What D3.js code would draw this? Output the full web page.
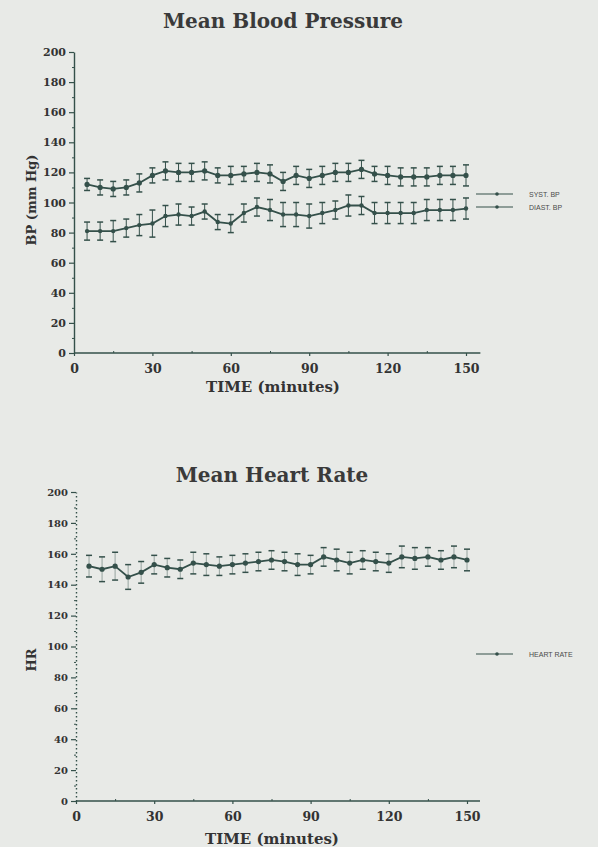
<!DOCTYPE html>
<html>
<head>
<meta charset="utf-8">
<script src="https://cdn.jsdelivr.net/npm/d3@7"></script>
<style>
	body { margin: 0; background: #e8eae7; }
	svg { display: block; }
</style>
</head>
<body>
<svg id="chart" width="598" height="847"></svg>
<script>
// ---------- DATA ----------
const minutes = [5, 10, 15, 20, 25, 30, 35, 40, 45, 50, 55, 60, 65, 70, 75,
	80, 85, 90, 95, 100, 105, 110, 115, 120, 125, 130, 135, 140, 145, 150];
const systolic = [112, 110, 109, 110, 113, 118, 121, 120, 120, 121, 118, 118, 119, 120, 119,
	114, 118, 116, 118, 120, 120, 122, 119, 118, 117, 117, 117, 118, 118, 118];
const systolicErr = [4, 5, 5, 5, 6, 5, 6, 6, 6, 6, 5, 6, 5, 6, 6,
	6, 6, 6, 6, 6, 6, 6, 5, 6, 6, 6, 6, 6, 6, 7];
const diastolic = [81, 81, 81, 83, 85, 86, 91, 92, 91, 94, 87, 86, 93, 97, 95,
	92, 92, 91, 93, 95, 98, 98, 93, 93, 93, 93, 95, 95, 95, 96];
const diastolicErr = [6, 6, 7, 6, 7, 9, 7, 7, 6, 5, 5, 6, 6, 6, 7,
	8, 8, 8, 7, 6, 7, 6, 7, 7, 7, 7, 7, 7, 7, 7];
const heartRate = [152, 150, 152, 145, 148, 153, 151, 150, 154, 153, 152, 153, 154, 155, 156,
	155, 153, 153, 158, 156, 154, 156, 155, 154, 158, 157, 158, 156, 158, 156];
const heartRateErr = [7, 8, 9, 8, 7, 6, 6, 6, 7, 7, 6, 6, 6, 6, 6,
	6, 7, 6, 6, 7, 7, 6, 6, 6, 7, 7, 6, 6, 7, 7];
const yTicks = [0, 20, 40, 60, 80, 100, 120, 140, 160, 180, 200];
const yMinorTicks = [10, 30, 50, 70, 90, 110, 130, 150, 170, 190];
const xTicks = [0, 30, 60, 90, 120, 150];
const xMinorTicks = [15, 45, 75, 105, 135];

const ink = "#34504a";
const textInk = "#333";
const svg = d3.select("#chart");

function drawPanel(cfg) {
	const x = d3.scaleLinear().domain([0, 150]).range([cfg.x0, cfg.x1]);
	const y = d3.scaleLinear().domain([0, 200]).range([cfg.y0, cfg.y1]);
	const g = svg.append("g");

	// title
	g.append("text")
		.attr("x", cfg.titleX)
		.attr("y", cfg.titleY)
		.attr("text-anchor", "middle")
		.attr("font-family", "DejaVu Serif")
		.attr("font-weight", "bold")
		.attr("font-size", 20)
		.attr("fill", "#3a3a3a")
		.text(cfg.title);

	// y axis
	const yAxis = g.append("g")
		.attr("transform", `translate(${cfg.x0},0)`)
		.call(d3.axisLeft(y).tickValues(yTicks).tickSize(5).tickSizeOuter(0).tickPadding(3));
	yAxis.select(".domain").attr("stroke", ink).attr("stroke-width", 1.4)
		.attr("stroke-dasharray", cfg.dotted ? "1.5,2.5" : null);
	yAxis.selectAll(".tick line").attr("stroke", ink).attr("stroke-width", 1.2);
	yAxis.selectAll(".tick text")
		.attr("font-family", "DejaVu Serif")
		.attr("font-weight", "bold")
		.attr("font-size", cfg.yFont)
		.attr("fill", textInk);
	g.append("g")
		.attr("transform", `translate(${cfg.x0},0)`)
		.call(d3.axisLeft(y).tickValues(yMinorTicks).tickSize(2).tickFormat(""))
		.call((a) => a.select(".domain").remove())
		.selectAll(".tick line").attr("stroke", ink);

	// x axis
	const xAxis = g.append("g")
		.attr("transform", `translate(0,${cfg.y0})`)
		.call(d3.axisBottom(x).tickValues(xTicks).tickSize(3).tickSizeOuter(0).tickPadding(8));
	xAxis.select(".domain").remove();
	xAxis.selectAll(".tick line").attr("stroke", ink).attr("stroke-width", 1.2);
	xAxis.selectAll(".tick text")
		.attr("font-family", "DejaVu Serif")
		.attr("font-weight", "bold")
		.attr("font-size", 12.5)
		.attr("fill", textInk);
	g.append("g")
		.attr("transform", `translate(0,${cfg.y0})`)
		.call(d3.axisTop(x).tickValues(xMinorTicks).tickSize(2).tickFormat(""))
		.call((a) => a.select(".domain").remove())
		.selectAll(".tick line").attr("stroke", ink);
	g.append("line")
		.attr("x1", cfg.x0)
		.attr("x2", x(cfg.axisEnd))
		.attr("y1", cfg.y0)
		.attr("y2", cfg.y0)
		.attr("stroke", ink)
		.attr("stroke-width", 1.6);

	// axis labels
	g.append("text")
		.attr("x", cfg.xLabelX)
		.attr("y", cfg.xLabelY)
		.attr("text-anchor", "middle")
		.attr("font-family", "DejaVu Serif")
		.attr("font-weight", "bold")
		.attr("font-size", 15)
		.attr("fill", textInk)
		.text("TIME (minutes)");
	g.append("text")
		.attr("transform", `translate(${cfg.yLabelX},${cfg.yLabelY}) rotate(-90)`)
		.attr("text-anchor", "middle")
		.attr("font-family", "DejaVu Serif")
		.attr("font-weight", "bold")
		.attr("font-size", 13)
		.attr("fill", textInk)
		.text(cfg.yLabel);

	// series
	cfg.series.forEach((s) => {
		const pts = minutes.map((m, i) => ({ m: m, v: s.values[i], e: s.err[i] }));
		const bars = g.append("g").attr("stroke", ink);
		bars.selectAll(".bar")
			.data(pts)
			.enter()
			.append("line")
			.attr("x1", (d) => x(d.m))
			.attr("x2", (d) => x(d.m))
			.attr("y1", (d) => y(d.v - d.e))
			.attr("y2", (d) => y(d.v + d.e))
			.attr("stroke-width", 1)
			.attr("opacity", cfg.barOpacity);
		[-1, 1].forEach((sgn) => {
			bars.selectAll(null)
				.data(pts)
				.enter()
				.append("line")
				.attr("x1", (d) => x(d.m) - 3)
				.attr("x2", (d) => x(d.m) + 3)
				.attr("y1", (d) => y(d.v + sgn * d.e))
				.attr("y2", (d) => y(d.v + sgn * d.e))
				.attr("stroke-width", 1.5);
		});
		g.append("path")
			.datum(pts)
			.attr("fill", "none")
			.attr("stroke", ink)
			.attr("stroke-width", 1.8)
			.attr("d", d3.line().x((d) => x(d.m)).y((d) => y(d.v)));
		g.selectAll(null)
			.data(pts)
			.enter()
			.append("circle")
			.attr("cx", (d) => x(d.m))
			.attr("cy", (d) => y(d.v))
			.attr("r", s.r)
			.attr("fill", ink);

		// legend entry
		g.append("line")
			.attr("x1", 476)
			.attr("x2", 513)
			.attr("y1", s.legendY)
			.attr("y2", s.legendY)
			.attr("stroke", ink)
			.attr("stroke-width", 1.2);
		g.append("circle")
			.attr("cx", 497)
			.attr("cy", s.legendY)
			.attr("r", 1.8)
			.attr("fill", ink);
		g.append("text")
			.attr("x", 529)
			.attr("y", s.legendY + 2.5)
			.attr("font-family", "Liberation Sans")
			.attr("font-size", 7)
			.attr("fill", "#4a4a4a")
			.text(s.name);
	});
}

drawPanel({
	title: "Mean Blood Pressure",
	titleX: 283, titleY: 28,
	x0: 74, x1: 466, y0: 353, y1: 52, axisEnd: 155.5,
	yLabel: "BP (mm Hg)", yLabelX: 36, yLabelY: 200,
	xLabelX: 273, xLabelY: 392,
	yFont: 11, dotted: false, barOpacity: 1,
	series: [
		{ name: "SYST. BP", values: systolic, err: systolicErr, r: 2.6, legendY: 194 },
		{ name: "DIAST. BP", values: diastolic, err: diastolicErr, r: 2.2, legendY: 207 },
	],
});

drawPanel({
	title: "Mean Heart Rate",
	titleX: 272, titleY: 482,
	x0: 76, x1: 467, y0: 801, y1: 492, axisEnd: 155,
	yLabel: "HR", yLabelX: 36, yLabelY: 660,
	xLabelX: 272, xLabelY: 844,
	yFont: 10, dotted: true, barOpacity: 0.45,
	series: [
		{ name: "HEART RATE", values: heartRate, err: heartRateErr, r: 2.6, legendY: 654 },
	],
});
</script>
</body>
</html>
